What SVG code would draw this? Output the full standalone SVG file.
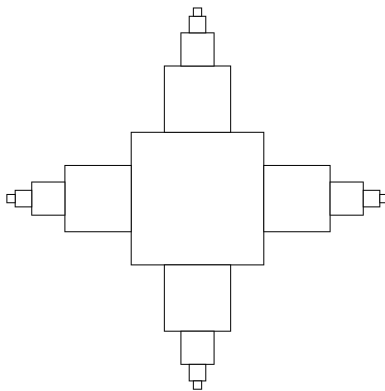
<svg xmlns="http://www.w3.org/2000/svg" width="385" height="391" viewBox="0 0 385 391">
<style>
rect { fill: #ffffff; stroke: #000000; stroke-width: 1; }
</style>
<rect x="0" y="0" width="385" height="391" style="stroke:none"/>
<g id="center"><rect x="131.2" y="132.3" width="132.6" height="132.6"/></g>
<g id="top">
<rect x="164.35" y="66.0" width="66.3" height="66.3"/>
<rect x="180.925" y="32.85" width="33.15" height="33.15"/>
<rect x="189.21" y="16.275" width="16.575" height="16.575"/>
<rect x="193.36" y="7.99" width="8.29" height="8.29"/>
</g>
<g id="bottom">
<rect x="164.35" y="264.9" width="66.3" height="66.3"/>
<rect x="180.925" y="331.2" width="33.15" height="33.15"/>
<rect x="189.21" y="364.35" width="16.575" height="16.575"/>
<rect x="193.36" y="380.925" width="8.29" height="8.29"/>
</g>
<g id="left">
<rect x="64.9" y="165.45" width="66.3" height="66.3"/>
<rect x="31.75" y="182.025" width="33.15" height="33.15"/>
<rect x="15.175" y="190.31" width="16.575" height="16.575"/>
<rect x="6.89" y="194.46" width="8.29" height="8.29"/>
</g>
<g id="right">
<rect x="263.8" y="165.45" width="66.3" height="66.3"/>
<rect x="330.1" y="182.025" width="33.15" height="33.15"/>
<rect x="363.25" y="190.31" width="16.575" height="16.575"/>
<rect x="379.825" y="194.46" width="8.29" height="8.29"/>
</g>
</svg>
